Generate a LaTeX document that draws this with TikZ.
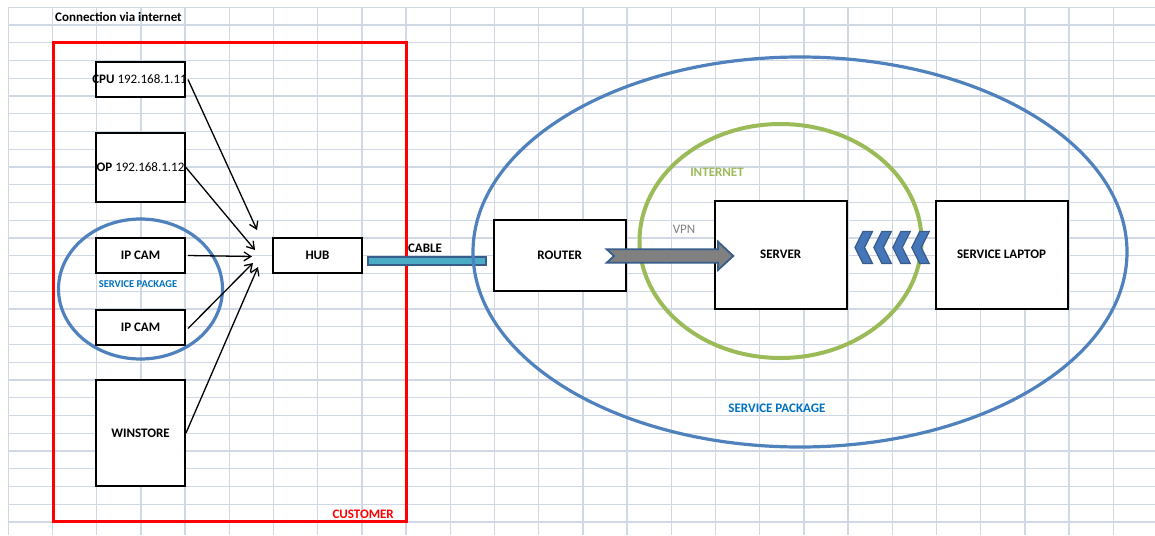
\documentclass[tikz,border=0pt]{standalone}
\usepackage{fontspec}
\setmainfont{Carlito}
\usetikzlibrary{arrows.meta, positioning}

\definecolor{gridline}{RGB}{208,215,229}
\definecolor{custred}{RGB}{255,0,0}
\definecolor{pkgblue}{RGB}{79,129,189}
\definecolor{pkgtext}{RGB}{0,112,192}
\definecolor{netgreen}{RGB}{155,187,89}
\definecolor{cablefill}{RGB}{75,172,198}
\definecolor{edgeblue}{RGB}{56,93,138}
\definecolor{vpngray}{RGB}{128,128,128}
\definecolor{chevfill}{RGB}{70,118,186}

\begin{document}
\begin{tikzpicture}[
    x=1pt,
    y=-1pt,
    font=\fontsize{13}{15}\selectfont\bfseries,
    node distance=88pt,
    on grid,
    box/.style={draw, fill=white, line width=2pt, inner sep=0pt, minimum width=89pt},
    feed/.style={-{Straight Barb[length=7pt, width=9pt]}, line width=1.3pt},
    pkgring/.style={draw=pkgblue, line width=3.2pt},
    pkglabel/.style={text=pkgtext},
]

    \useasboundingbox (0,0) rectangle (1155,535);

    \foreach \k in {0,...,25}
        \draw[gridline, line width=1.3pt] (8.3+44.2*\k,7.3) -- (8.3+44.2*\k,535);
    \foreach \k in {0,...,29}
        \draw[gridline, line width=1.3pt] (8.3,7.3+17.75*\k) -- (1155,7.3+17.75*\k);

    \node[anchor=west, inner sep=0pt] (title) at (55,17) {Connection via internet};

    \draw[custred, line width=3pt] (53,43) rectangle (406,521);
    \node[text=custred, anchor=east, inner sep=0pt] (customer) at (394,514) {CUSTOMER};

    \node[box, minimum height=35pt]              (cpu)  at (140.5,79.5) {};
    \node[box, minimum height=69pt, below=of cpu] (op)   {};
    \node[box, minimum height=35pt]              (cam1) at (140.5,255.5) {};
    \node[box, minimum height=35pt, below=72pt of cam1] (cam2) {};
    \node[box, minimum height=106pt]             (win)  at (140.5,433) {WINSTORE};
    \node[box, minimum height=35pt]              (hub)  at (317.5,255.5) {HUB};

    \node (cpu-txt) at (139.5,79.5) {CPU \mdseries 192.168.1.11};
    \node (op-txt)  at (op) {OP \mdseries 192.168.1.12};
    \node (cam1-txt) at (cam1) {IP CAM};
    \node (cam2-txt) at (cam2) {IP CAM};

    \draw[pkgring] (140.5,289) ellipse [x radius=82, y radius=70];
    \node[pkglabel, font=\fontsize{10.5}{12}\selectfont\bfseries] (pkg-small) at (138,284.5) {SERVICE PACKAGE};

    \coordinate (in-cpu)  at (257,230);
    \coordinate (in-op)   at (255,250);
    \coordinate (in-cam1) at (252,256.5);
    \coordinate (in-cam2) at (253,263);
    \coordinate (in-win)  at (258,267);

    \draw[feed] ([xshift=2pt]cpu.east) -- (in-cpu);
    \draw[feed] (op.east)   -- (in-op);
    \draw[feed] ([xshift=2pt]cam1.east) -- (in-cam1);
    \draw[feed] ([xshift=2pt,yshift=-1pt]cam2.east) -- (in-cam2);
    \draw[feed] (win.east)  -- (in-win);

    \coordinate (cable-a) at (368,257);
    \coordinate (cable-b) at (486,265);
    \draw[draw=edgeblue, fill=cablefill, line width=1.8pt] (cable-a) rectangle (cable-b);
    \node (cable) at (425,248) {CABLE};

    \draw[pkgring] (800,252) ellipse [x radius=327, y radius=195];
    \node[pkglabel] (pkg-big) at (777,408) {SERVICE PACKAGE};

    \draw[netgreen, line width=4pt] (780.5,241) ellipse [x radius=141, y radius=117];
    \node[text=netgreen] (internet) at (717,172) {INTERNET};

    \node[box, minimum width=132pt, minimum height=71pt]  (router) at (559.7,255.5) {ROUTER};
    \node[box, minimum width=132pt, minimum height=108pt] (server) at (780.7,254.5) {SERVER};
    \node[box, minimum width=132pt, minimum height=108pt] (laptop) at (1001.5,254.5) {SERVICE LAPTOP};

    \node[text=vpngray, font=\fontsize{13}{15}\selectfont] (vpn) at (684,229) {VPN};
    \draw[fill=vpngray, draw=edgeblue, line width=1.8pt, line join=miter]
        (606.7,249.3) -- (718,249.3) -- (718,241.7) -- (733.3,256) -- (718,270)
        -- (718,262.7) -- (606.7,262.7) -- (614,256) -- cycle;

    \foreach \i in {0,...,3}
        \draw[fill=chevfill, draw=edgeblue, line width=1.2pt, line join=miter, xshift=18.9*\i]
            (855,247.5) -- (863,231.5) -- (872.5,231.5) -- (864.5,247.5)
            -- (872.5,263.5) -- (863,263.5) -- cycle;

\end{tikzpicture}
\end{document}
